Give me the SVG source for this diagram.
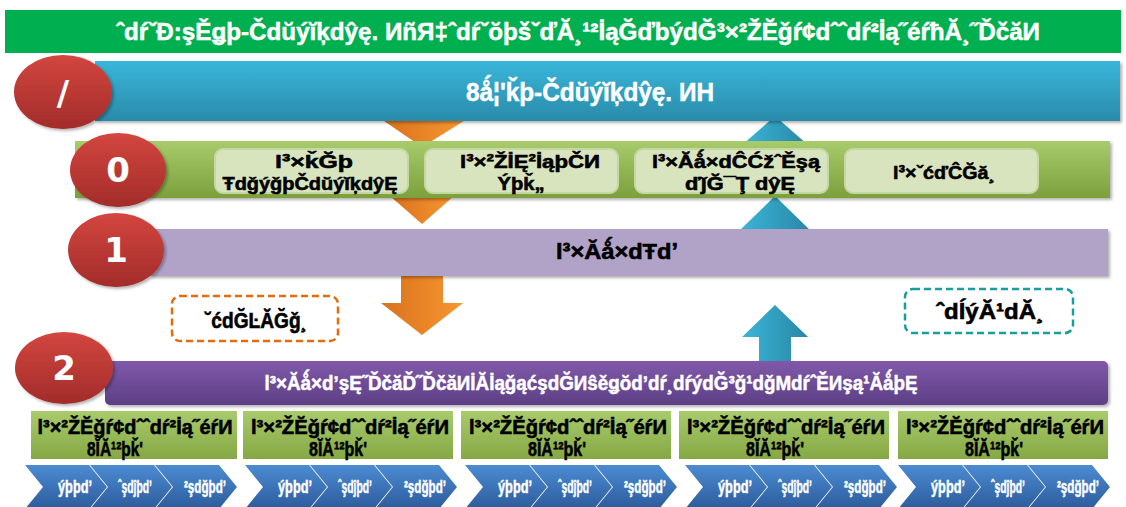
<svg xmlns="http://www.w3.org/2000/svg" width="1126" height="507" viewBox="0 0 1126 507">
<style>
.t{font-family:"Liberation Sans",Arial,sans-serif;font-weight:bold;text-anchor:middle}
.w{fill:#ffffff;stroke:#ffffff;stroke-width:0.5}
.k{fill:#000000;stroke:#000000;stroke-width:0.6}
.num{font-family:"DejaVu Sans",Verdana,sans-serif;font-weight:bold;fill:#ffffff;text-anchor:middle;font-size:34px}
.ib{fill:#D8E4BD;stroke:#C5D7A2;stroke-width:2}
.gb{fill:url(#gBox)}
.ch{fill:url(#chevG)}
</style>
<defs>
<linearGradient id="redG" x1="0" y1="0" x2="0" y2="1"><stop offset="0" stop-color="#D3463F"/><stop offset="1" stop-color="#A22C2A"/></linearGradient>
<linearGradient id="blueBar" x1="0" y1="0" x2="0" y2="1"><stop offset="0" stop-color="#39B6DA"/><stop offset="1" stop-color="#2A8BAA"/></linearGradient>
<linearGradient id="greenBand" x1="0" y1="0" x2="0" y2="1"><stop offset="0" stop-color="#A8CB6C"/><stop offset="1" stop-color="#7CA03C"/></linearGradient>
<linearGradient id="purple2" x1="0" y1="0" x2="0" y2="1"><stop offset="0" stop-color="#8059AA"/><stop offset="1" stop-color="#5D3F85"/></linearGradient>
<linearGradient id="orangeG" x1="0" y1="0" x2="1" y2="0"><stop offset="0" stop-color="#D8721E"/><stop offset="1" stop-color="#F8962F"/></linearGradient>
<linearGradient id="blueArr" x1="0" y1="0" x2="1" y2="0"><stop offset="0" stop-color="#3CB6D8"/><stop offset="1" stop-color="#2886A6"/></linearGradient>
<linearGradient id="chevG" x1="0" y1="0" x2="0" y2="1"><stop offset="0" stop-color="#4C8BD2"/><stop offset="1" stop-color="#2C5C9C"/></linearGradient>
<linearGradient id="gBox" x1="0" y1="0" x2="0" y2="1"><stop offset="0" stop-color="#A9CB6D"/><stop offset="1" stop-color="#85A843"/></linearGradient>
<filter id="sh" x="-5%" y="-20%" width="110%" height="150%"><feDropShadow dx="2" dy="2" stdDeviation="1.5" flood-color="#000" flood-opacity="0.3"/></filter>
</defs>

<g id="title">
<rect x="5" y="10" width="1116" height="43" fill="#00B050"/>
<text class="t w" x="578" y="40" font-size="24" textLength="924" lengthAdjust="spacingAndGlyphs">ˆdŕˇĐ:şĚǥþ-Čdŭýĭķdŷę. ИñЯ‡ˆdŕˇŏþšˇďĂ¸¹²İąĞďbýdĞ³×²ŽĔǧŕ¢dˆˆdŕ²İą˝éŕħĂ¸˝ĎčăИ</text>
</g>

<g id="connectors">
<polygon points="384,121 464,121 422,147" fill="url(#orangeG)"/>
<polygon points="742,145 808,145 775,116" fill="url(#blueArr)"/>
<polygon points="390,196 454,196 422,224" fill="url(#orangeG)"/>
<polygon points="738,232 812,232 775,196" fill="url(#blueArr)"/>
<polygon points="401,274 443,274 443,303 463,303 422,335 381,303 401,303" fill="url(#orangeG)"/>
<polygon points="759,364 791,364 791,337 808,337 775,305 742,337 759,337" fill="url(#blueArr)"/>
</g>

<g id="band-top">
<rect x="95" y="61" width="1025" height="60" fill="url(#blueBar)" filter="url(#sh)"/>
<text class="t w" x="590" y="101" font-size="26" textLength="248" lengthAdjust="spacingAndGlyphs">8ǻ¦'ǩþ-Čdŭýĭķdŷę. ИН</text>
</g>

<g id="band-0">
<rect x="75" y="141" width="1035" height="57" fill="url(#greenBand)" filter="url(#sh)"/>
<rect class="ib" x="215" y="149" width="193" height="44" rx="8"/>
<rect class="ib" x="425" y="149" width="193" height="44" rx="8"/>
<rect class="ib" x="635" y="149" width="193" height="44" rx="8"/>
<rect class="ib" x="845" y="149" width="193" height="44" rx="8"/>
<text class="t k" x="314" y="168" font-size="19" textLength="78" lengthAdjust="spacingAndGlyphs">l³×ǩĞþ</text>
<text class="t k" x="310" y="190" font-size="19" textLength="175" lengthAdjust="spacingAndGlyphs">ŦdǧýǧþČdŭýĭķdŷĘ</text>
<text class="t k" x="530" y="168" font-size="19" textLength="140" lengthAdjust="spacingAndGlyphs">l³×²ŽİĘ²İąþČИ</text>
<text class="t k" x="521" y="190" font-size="19" textLength="47" lengthAdjust="spacingAndGlyphs">Ýþǩ„</text>
<text class="t k" x="736" y="168" font-size="19" textLength="168" lengthAdjust="spacingAndGlyphs">l³×Ăǻ×dĈĆžˆĚşą</text>
<text class="t k" x="740" y="190" font-size="19" textLength="110" lengthAdjust="spacingAndGlyphs">ďǰĞ¯Ţ dŷĘ</text>
<text class="t k" x="944" y="179" font-size="19" textLength="102" lengthAdjust="spacingAndGlyphs">l³×ˇćďĈĞă¸</text>
</g>

<g id="band-1">
<rect x="150" y="229" width="958" height="47" fill="#B1A2C8" filter="url(#sh)"/>
<text class="t k" x="617" y="259" font-size="22" textLength="122" lengthAdjust="spacingAndGlyphs">l³×Ăǻ×dŦdʼ</text>
</g>

<g id="note-left">
<rect x="172" y="296" width="166" height="45" rx="8" fill="#ffffff" stroke="#E46C0A" stroke-width="2.5" stroke-dasharray="7,4"/>
<text class="t k" x="256" y="328" font-size="22" textLength="102" lengthAdjust="spacingAndGlyphs">˘ćdĞĿĂĞǧ¸</text>
</g>

<g id="note-right">
<rect x="905" y="289" width="168" height="44" rx="8" fill="#ffffff" stroke="#17A09B" stroke-width="2.5" stroke-dasharray="7,4"/>
<text class="t k" x="990" y="319" font-size="22" textLength="108" lengthAdjust="spacingAndGlyphs">ˆdĺýĂ¹dĂ¸</text>
</g>

<g id="band-2">
<rect x="105" y="361" width="1003" height="44" rx="5" fill="url(#purple2)" filter="url(#sh)"/>
<text class="t w" x="591" y="390" font-size="20" textLength="653" lengthAdjust="spacingAndGlyphs">l³×Ăǻ×dʼşĘ˝ĎčăĎ˝ĎčăИİĂİąǧąćşdĞИŝěǥŏdʼdŕ¸dŕýdĞ³ǧ¹dǧМdŕˆĚИşą¹ĂǻþĘ</text>
</g>

<g id="circle-slash">
<ellipse cx="63" cy="92" rx="49" ry="37" fill="url(#redG)" filter="url(#sh)"/>
<text class="num" x="63" y="105" font-size="38">/</text>
</g>
<g id="circle-0">
<ellipse cx="118" cy="170" rx="48" ry="37" fill="url(#redG)" filter="url(#sh)"/>
<text class="num" x="118" y="182">0</text>
</g>
<g id="circle-1">
<ellipse cx="116" cy="250" rx="48" ry="37" fill="url(#redG)" filter="url(#sh)"/>
<text class="num" x="116" y="262">1</text>
</g>
<g id="circle-2">
<ellipse cx="64" cy="368" rx="49" ry="36" fill="url(#redG)" filter="url(#sh)"/>
<text class="num" x="64" y="380">2</text>
</g>

<g id="box-1">
<rect class="gb" x="31" y="411" width="206" height="48"/>
<text class="t k" x="135" y="434" font-size="21" textLength="195" lengthAdjust="spacingAndGlyphs">l³×²ŽĔǧŕ¢dˆˆdŕ²İą˝éŕИ</text>
<text class="t k" x="115" y="456" font-size="21" textLength="56" lengthAdjust="spacingAndGlyphs">8ĬĂ¹²þǩ'</text>
</g>
<g id="box-2">
<rect class="gb" x="243" y="411" width="210" height="48"/>
<text class="t k" x="350" y="434" font-size="21" textLength="198" lengthAdjust="spacingAndGlyphs">l³×²ŽĔǧŕ¢dˆˆdŕ²İą˝éŕИ</text>
<text class="t k" x="338" y="456" font-size="21" textLength="58" lengthAdjust="spacingAndGlyphs">8ĬĂ¹²þǩ'</text>
</g>
<g id="box-3">
<rect class="gb" x="461" y="411" width="210" height="48"/>
<text class="t k" x="568" y="434" font-size="21" textLength="198" lengthAdjust="spacingAndGlyphs">l³×²ŽĔǧŕ¢dˆˆdŕ²İą˝éŕИ</text>
<text class="t k" x="557" y="456" font-size="21" textLength="58" lengthAdjust="spacingAndGlyphs">8ĬĂ¹²þǩ'</text>
</g>
<g id="box-4">
<rect class="gb" x="679" y="411" width="210" height="48"/>
<text class="t k" x="786" y="434" font-size="21" textLength="198" lengthAdjust="spacingAndGlyphs">l³×²ŽĔǧŕ¢dˆˆdŕ²İą˝éŕИ</text>
<text class="t k" x="775" y="456" font-size="21" textLength="58" lengthAdjust="spacingAndGlyphs">8ĬĂ¹²þǩ'</text>
</g>
<g id="box-5">
<rect class="gb" x="898" y="411" width="210" height="48"/>
<text class="t k" x="1005" y="434" font-size="21" textLength="198" lengthAdjust="spacingAndGlyphs">l³×²ŽĔǧŕ¢dˆˆdŕ²İą˝éŕИ</text>
<text class="t k" x="994" y="456" font-size="21" textLength="58" lengthAdjust="spacingAndGlyphs">8ĬĂ¹²þǩ'</text>
</g>

<g id="chevrons-1" transform="translate(25,0)">
<polygon class="ch" points="0,465 64,465 82,487 64,509 0,509 18,487"/>
<polygon class="ch" points="65,465 129,465 147,487 129,509 65,509 83,487"/>
<polygon class="ch" points="130,465 194,465 212,487 194,509 130,509 148,487"/>
<text class="t w" x="50" y="493" font-size="18" textLength="34" lengthAdjust="spacingAndGlyphs">ýþþdʼ</text>
<text class="t w" x="110" y="493" font-size="18" textLength="34" lengthAdjust="spacingAndGlyphs">ˆşdĵþdʼ</text>
<text class="t w" x="180" y="493" font-size="18" textLength="42" lengthAdjust="spacingAndGlyphs">²şdğþdʼ</text>
</g>
<g id="chevrons-2" transform="translate(245,0)">
<polygon class="ch" points="0,465 64,465 82,487 64,509 0,509 18,487"/>
<polygon class="ch" points="65,465 129,465 147,487 129,509 65,509 83,487"/>
<polygon class="ch" points="130,465 194,465 212,487 194,509 130,509 148,487"/>
<text class="t w" x="50" y="493" font-size="18" textLength="34" lengthAdjust="spacingAndGlyphs">ýþþdʼ</text>
<text class="t w" x="110" y="493" font-size="18" textLength="34" lengthAdjust="spacingAndGlyphs">ˆşdĵþdʼ</text>
<text class="t w" x="180" y="493" font-size="18" textLength="42" lengthAdjust="spacingAndGlyphs">²şdğþdʼ</text>
</g>
<g id="chevrons-3" transform="translate(465,0)">
<polygon class="ch" points="0,465 64,465 82,487 64,509 0,509 18,487"/>
<polygon class="ch" points="65,465 129,465 147,487 129,509 65,509 83,487"/>
<polygon class="ch" points="130,465 194,465 212,487 194,509 130,509 148,487"/>
<text class="t w" x="50" y="493" font-size="18" textLength="34" lengthAdjust="spacingAndGlyphs">ýþþdʼ</text>
<text class="t w" x="110" y="493" font-size="18" textLength="34" lengthAdjust="spacingAndGlyphs">ˆşdĵþdʼ</text>
<text class="t w" x="180" y="493" font-size="18" textLength="42" lengthAdjust="spacingAndGlyphs">²şdğþdʼ</text>
</g>
<g id="chevrons-4" transform="translate(685,0)">
<polygon class="ch" points="0,465 64,465 82,487 64,509 0,509 18,487"/>
<polygon class="ch" points="65,465 129,465 147,487 129,509 65,509 83,487"/>
<polygon class="ch" points="130,465 194,465 212,487 194,509 130,509 148,487"/>
<text class="t w" x="50" y="493" font-size="18" textLength="34" lengthAdjust="spacingAndGlyphs">ýþþdʼ</text>
<text class="t w" x="110" y="493" font-size="18" textLength="34" lengthAdjust="spacingAndGlyphs">ˆşdĵþdʼ</text>
<text class="t w" x="180" y="493" font-size="18" textLength="42" lengthAdjust="spacingAndGlyphs">²şdğþdʼ</text>
</g>
<g id="chevrons-5" transform="translate(898,0)">
<polygon class="ch" points="0,465 64,465 82,487 64,509 0,509 18,487"/>
<polygon class="ch" points="65,465 129,465 147,487 129,509 65,509 83,487"/>
<polygon class="ch" points="130,465 194,465 212,487 194,509 130,509 148,487"/>
<text class="t w" x="50" y="493" font-size="18" textLength="34" lengthAdjust="spacingAndGlyphs">ýþþdʼ</text>
<text class="t w" x="110" y="493" font-size="18" textLength="34" lengthAdjust="spacingAndGlyphs">ˆşdĵþdʼ</text>
<text class="t w" x="180" y="493" font-size="18" textLength="42" lengthAdjust="spacingAndGlyphs">²şdğþdʼ</text>
</g>
</svg>
